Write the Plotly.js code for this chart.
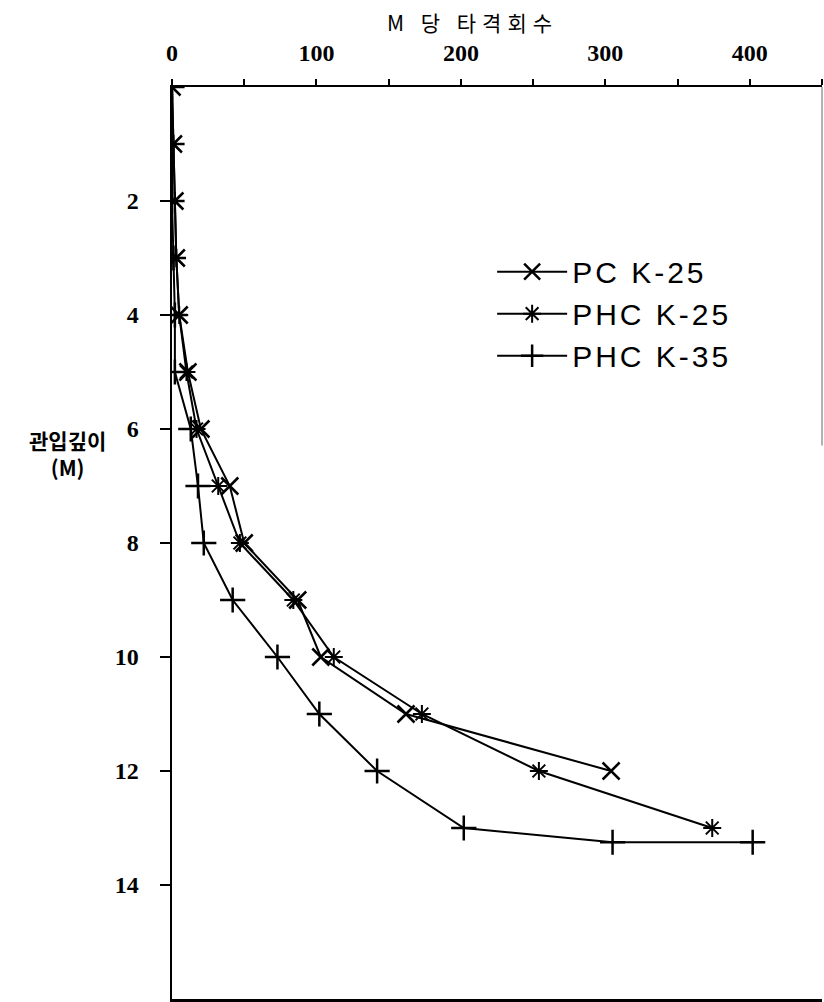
<!DOCTYPE html>
<html>
<head>
<meta charset="utf-8">
<script src="https://cdn.plot.ly/plotly-3.0.1.min.js"></script>
<style>
html,body{margin:0;padding:0;background:#fff;}
g.annotation[data-index="0"] text{letter-spacing:6px;}
.legendtext{letter-spacing:3px;}
</style>
</head>
<body>
<div id="chart" style="width:824px;height:1002px;"></div>
<script>
// Series: depth (M) vs blows per metre
const seriesNames = ["PC K-25", "PHC K-25", "PHC K-35"];
const depthPC25 = [0, 1, 2, 3, 4, 5, 6, 7, 8, 9, 10, 11, 12];
const blowsPC25 = [0, 1, 2, 3, 5, 11, 20, 40, 50, 87, 103, 162, 304];
const depthPHC25 = [0, 1, 2, 3, 4, 5, 6, 7, 8, 9, 10, 11, 12, 13];
const blowsPHC25 = [0, 1, 2, 3, 5, 10, 17, 32, 47, 84, 112, 173, 254, 374];
const depthPHC35 = [0, 1, 2, 3, 4, 5, 6, 7, 8, 9, 10, 11, 12, 13, 13.25, 13.25];
const blowsPHC35 = [0, 0, 0, 1, 2, 2, 13, 18, 22, 42, 73, 102, 142, 202, 305, 402];
const xTickVals = [0, 50, 100, 150, 200, 250, 300, 350, 400, 450];
const xTickText = ["0", "", "100", "", "200", "", "300", "", "400", ""];
const yTickVals = [2, 4, 6, 8, 10, 12, 14];
const yTickText = ["2", "4", "6", "8", "10", "12", "14"];
const xTitle = "M 당 타격회수";
const yTitle = "관입깊이<br>(M)";

const lineStyle = {color: "#000", width: 2};
const traces = [
  {x: blowsPC25, y: depthPC25, name: seriesNames[0], mode: "lines+markers", type: "scatter",
   line: lineStyle, marker: {symbol: "x-thin-open", size: 17, color: "#000", line: {color: "#000", width: 2.5}}},
  {x: blowsPHC25, y: depthPHC25, name: seriesNames[1], mode: "lines+markers", type: "scatter",
   line: lineStyle, marker: {symbol: "asterisk-open", size: 15, color: "#000", line: {color: "#000", width: 2}}},
  {x: blowsPHC35, y: depthPHC35, name: seriesNames[2], mode: "lines+markers", type: "scatter",
   line: lineStyle, marker: {symbol: "cross-thin-open", size: 18, color: "#000", line: {color: "#000", width: 2.5}}}
];

const tickFont = {family: "Liberation Serif, serif", size: 24, color: "#000", weight: "bold"};
const layout = {
  width: 824, height: 1002,
  margin: {l: 172, r: 2, t: 87, b: 3},
  paper_bgcolor: "#fff", plot_bgcolor: "#fff",
  showlegend: true,
  legend: {x: 0.4925, y: 0.826, xanchor: "left", yanchor: "top", bgcolor: "rgba(0,0,0,0)",
           font: {family: "Liberation Sans, Arial, sans-serif", size: 30, color: "#000"},
           itemwidth: 70, tracegroupgap: 0},
  xaxis: {side: "top", range: [0, 450], tickmode: "array", tickvals: xTickVals, ticktext: xTickText,
          ticks: "outside", ticklen: 6, tickwidth: 2, tickcolor: "#000",
          showline: true, linewidth: 2.5, linecolor: "#000", mirror: true,
          showgrid: false, zeroline: false, tickfont: tickFont, ticklabelstandoff: 8},
  yaxis: {range: [16, 0], tickmode: "array", tickvals: yTickVals, ticktext: yTickText,
          ticks: "outside", ticklen: 10, tickwidth: 2.5, tickcolor: "#000",
          showline: true, linewidth: 2.5, linecolor: "#000",
          showgrid: false, zeroline: false, tickfont: tickFont, ticklabelstandoff: 16},
  shapes: [
    {type: "line", xref: "paper", yref: "paper", x0: 1, x1: 1, y0: 0.607, y1: 1,
     line: {color: "#999", width: 1.5}}
  ],
  annotations: [
    {text: xTitle, xref: "paper", yref: "paper", x: 0.463, y: 1.0713, xanchor: "center", yanchor: "middle",
     showarrow: false, font: {family: "Noto Sans CJK KR, sans-serif", size: 21, color: "#000"}},
    {text: yTitle, xref: "paper", yref: "paper", x: -0.1615, y: 0.598, xanchor: "center", yanchor: "middle",
     showarrow: false, font: {family: "Noto Sans CJK KR, sans-serif", size: 21, color: "#000", weight: "bold"}}
  ]
};

Plotly.newPlot("chart", traces, layout, {displayModeBar: false, staticPlot: true});
</script>
</body>
</html>
